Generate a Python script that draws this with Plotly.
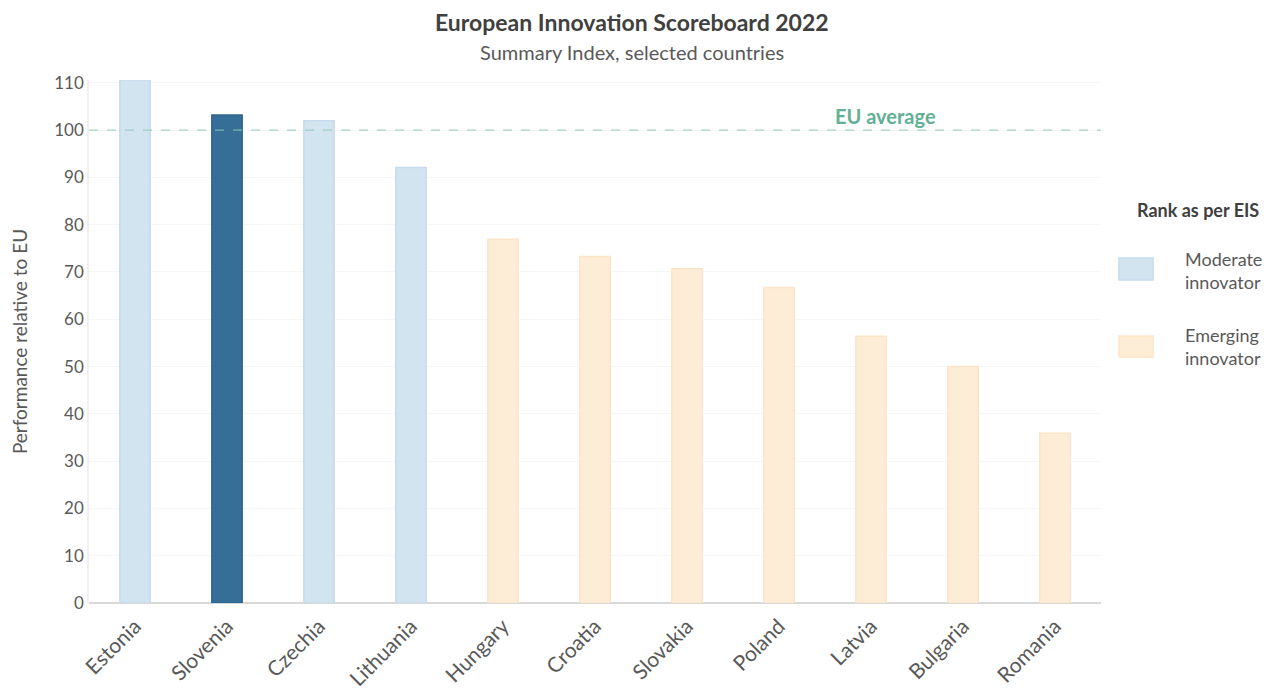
import plotly.graph_objects as go

countries = ["Estonia", "Slovenia", "Czechia", "Lithuania", "Hungary", "Croatia",
             "Slovakia", "Poland", "Latvia", "Bulgaria", "Romania"]
scores = [110.6, 103.2, 102.0, 92.1, 76.9, 73.3, 70.7, 66.7, 56.4, 50.0, 35.9]
groups = ["Moderate", "Moderate", "Moderate", "Moderate", "Emerging", "Emerging",
          "Emerging", "Emerging", "Emerging", "Emerging", "Emerging"]
highlight = "Slovenia"
eu_average = 100
y_ticks = [0, 10, 20, 30, 40, 50, 60, 70, 80, 90, 100, 110]
legend_title = "Rank as per EIS"
legend_labels = {"Moderate": "Moderate<br>innovator", "Emerging": "Emerging<br>innovator"}

FONT = "Lato, 'Open Sans', sans-serif"
fill = {"Moderate": "#d3e4f1", "Emerging": "#fdecd6"}
edge = {"Moderate": "#c6dbed", "Emerging": "#fbe5c8"}

fig = go.Figure()
for g in ["Moderate", "Emerging"]:
    xs = [c for c, gg in zip(countries, groups) if gg == g]
    ys = [s for s, gg in zip(scores, groups) if gg == g]
    cols = ["#356f98" if c == highlight else fill[g] for c in xs]
    lcols = ["#2f6690" if c == highlight else edge[g] for c in xs]
    fig.add_trace(go.Bar(x=xs, y=ys, name=legend_labels[g].replace("<br>", " "),
                         marker=dict(color=cols, line=dict(color=lcols, width=1.5)),
                         showlegend=False))

# EU average line
fig.add_shape(type="line", xref="paper", yref="y", x0=0, x1=1,
              y0=eu_average, y1=eu_average,
              line=dict(color="#8ccab5", width=1, dash="dash"))
fig.add_annotation(x=0.787, xref="paper", xanchor="center", y=eu_average, yref="y",
                   yshift=14, text="<b>EU average</b>", showarrow=False,
                   font=dict(family=FONT, size=20, color="#62b093"))

# Titles
fig.add_annotation(x=0.5366, xref="paper", xanchor="center", y=1.111, yref="paper",
                   yanchor="middle", text="<b>European Innovation Scoreboard 2022</b>",
                   showarrow=False, font=dict(family=FONT, size=23, color="#404040"))
fig.add_annotation(x=0.5366, xref="paper", xanchor="center", y=1.0535, yref="paper",
                   yanchor="middle", text="Summary Index, selected countries",
                   showarrow=False, font=dict(family=FONT, size=20, color="#595959"))

# Legend (drawn)
fig.add_annotation(x=1.0336, xref="paper", xanchor="left", y=0.7514, yref="paper",
                   yanchor="middle", text="<b>" + legend_title + "</b>", showarrow=False,
                   font=dict(family=FONT, size=18, color="#404040"))
for g, (y0, y1, yc) in zip(["Moderate", "Emerging"],
                           [(0.6176, 0.6597, 0.6367), (0.4704, 0.5105, 0.4895)]):
    fig.add_shape(type="rect", xref="paper", yref="paper", x0=1.0178, x1=1.0514,
                  y0=y0, y1=y1, fillcolor=fill[g], line=dict(color=edge[g], width=1.5))
    fig.add_annotation(x=1.081, xref="paper", xanchor="left", y=yc, yref="paper",
                       yanchor="middle", align="left", text=legend_labels[g],
                       showarrow=False,
                       font=dict(family=FONT, size=18, color="#595959"))

fig.update_layout(
    width=1264, height=697,
    margin=dict(l=89, r=163, t=80, b=94),
    paper_bgcolor="white", plot_bgcolor="white",
    font=dict(family=FONT, size=17, color="#595959"),
    bargap=0.67,
    barmode="overlay",
    showlegend=False,
    xaxis=dict(categoryorder="array", categoryarray=countries,
               tickangle=-45, tickfont=dict(size=21, color="#595959"),
               ticklabelstandoff=6,
               showline=False, ticks="", showgrid=False, automargin=False),
    yaxis=dict(range=[0, 110.6], tickvals=y_ticks, automargin=False,
               showgrid=True, gridcolor="#f6f6f6", zeroline=True,
               zerolinecolor="#d9d9d9", zerolinewidth=1.5,
               showline=True, linecolor="#f0f0f0", linewidth=1.5,
               ticks="", ticklen=0,
               title=dict(text="Performance relative to EU", standoff=22,
                          font=dict(size=19, color="#595959")),
               tickfont=dict(size=17, color="#595959")),
)

fig.write_html("out.html")
